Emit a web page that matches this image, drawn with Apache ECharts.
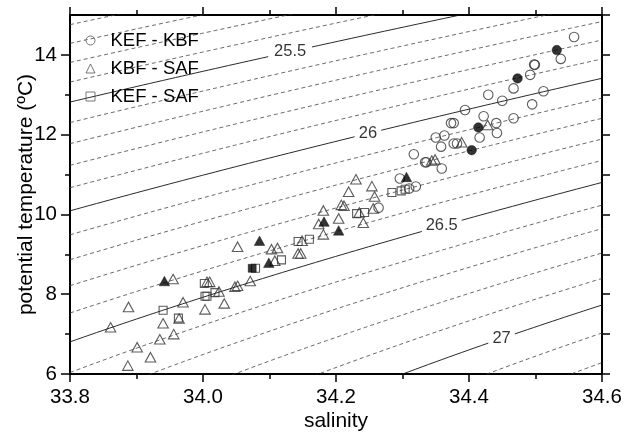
<!DOCTYPE html>
<html>
<head>
<meta charset="utf-8">
<script src="https://cdn.jsdelivr.net/npm/echarts@6/dist/echarts.min.js"></script>
<style>
html, body { margin: 0; padding: 0; background: #fff; }
#main { width: 628px; height: 432px; }
</style>
</head>
<body>
<div id="main"></div>
<script>
// tick labels
var salTicks = [33.8, 34.0, 34.2, 34.4, 34.6];
var salMinor = [33.9, 34.1, 34.3, 34.5];
var tempTicks = [6, 8, 10, 12, 14];
var tempMinor = [7, 9, 11, 13];
var tempRight = [6, 7, 8, 9, 10, 11, 12, 13, 14, 15];

// isopycnals (sigma-theta), solid ones carry a label
var isoLevels = [25.0, 25.1, 25.2, 25.3, 25.4, 25.5, 25.6, 25.7, 25.8, 25.9,
  26.0, 26.1, 26.2, 26.3, 26.4, 26.5, 26.6, 26.7, 26.8, 26.9, 27.0, 27.1, 27.2, 27.3];
var labelLevels = [25.5, 26, 26.5, 27];
var labelText = ['25.5', '26', '26.5', '27'];
var labelSalinity = [34.131, 34.248, 34.359, 34.449];

// [salinity, potential temperature]
var kefKbf = [[34.296, 10.90], [34.310, 10.65], [34.320, 10.70], [34.264, 10.17], [34.317, 11.51],
  [34.334, 11.31], [34.336, 11.31], [34.359, 11.15], [34.350, 11.93], [34.363, 11.98],
  [34.358, 11.70], [34.373, 12.29], [34.377, 12.29], [34.394, 12.62], [34.377, 11.78],
  [34.382, 11.78], [34.416, 11.93], [34.422, 12.46], [34.441, 12.29], [34.442, 12.04],
  [34.429, 13.00], [34.450, 12.85], [34.467, 12.41], [34.495, 12.76], [34.512, 13.09],
  [34.467, 13.16], [34.492, 13.50], [34.498, 13.76], [34.499, 13.75], [34.538, 13.90],
  [34.558, 14.45]];
var kefKbfBlack = [[34.414, 12.18], [34.404, 11.61], [34.473, 13.41], [34.532, 14.12]];

var kbfSaf = [[33.887, 6.21], [33.921, 6.42], [33.901, 6.67], [33.935, 6.87], [33.956, 7.00],
  [33.861, 7.17], [33.940, 7.27], [33.964, 7.39], [33.888, 7.68], [33.970, 7.80],
  [34.003, 7.62], [34.032, 7.77], [33.955, 8.38], [34.006, 8.31], [34.010, 8.31],
  [34.024, 8.07], [34.048, 8.19], [34.052, 8.21], [34.071, 8.33], [34.052, 9.19],
  [34.103, 9.13], [34.112, 9.16], [34.108, 8.84], [34.143, 9.02], [34.147, 9.02],
  [34.149, 9.34], [34.174, 9.76], [34.181, 9.50], [34.181, 10.10], [34.204, 9.90],
  [34.208, 10.24], [34.212, 10.22], [34.219, 10.57], [34.230, 10.88], [34.254, 10.71],
  [34.258, 10.45], [34.256, 10.15], [34.241, 9.79], [34.235, 10.05], [34.344, 11.35],
  [34.349, 11.38], [34.389, 11.81], [34.428, 12.24]];
var kbfSafBlack = [[33.942, 8.33], [34.085, 9.34], [34.099, 8.79], [34.182, 9.82],
  [34.204, 9.60], [34.306, 10.94]];

var kefSaf = [[33.940, 7.60], [33.963, 7.40], [34.002, 8.27], [34.003, 7.95], [34.006, 7.95],
  [34.018, 8.04], [34.079, 8.65], [34.118, 8.86], [34.143, 9.32], [34.160, 9.38],
  [34.231, 10.02], [34.243, 10.05], [34.284, 10.55], [34.298, 10.59], [34.304, 10.63]];
var kefSafBlack = [[34.074, 8.65]];

var FONT = "'Liberation Sans', Arial, sans-serif";
var salMin = 33.8, salMax = 34.6, tMin = 6, tMax = 15;

// UNESCO EOS-80 density at p = 0, minus 1000
function sigma0(S, T) {
  var rw = 999.842594 + 6.793952e-2 * T - 9.095290e-3 * T * T + 1.001685e-4 * T * T * T
    - 1.120083e-6 * Math.pow(T, 4) + 6.536332e-9 * Math.pow(T, 5);
  var A = 0.824493 - 4.0899e-3 * T + 7.6438e-5 * T * T - 8.2467e-7 * T * T * T + 5.3875e-9 * Math.pow(T, 4);
  var B = -5.72466e-3 + 1.0227e-4 * T - 1.6546e-6 * T * T;
  return rw + A * S + B * Math.pow(S, 1.5) + 4.8314e-4 * S * S - 1000;
}
function tempOn(S, level) {
  var lo = -2, hi = 40;
  for (var k = 0; k < 60; k++) {
    var mid = (lo + hi) / 2;
    if (sigma0(S, mid) > level) lo = mid; else hi = mid;
  }
  return (lo + hi) / 2;
}
function isoLine(level, s0, s1) {
  var pts = [];
  var n = Math.max(2, Math.ceil((s1 - s0) / 0.01));
  for (var i = 0; i <= n; i++) {
    var s = s0 + (s1 - s0) * i / n;
    pts.push([s, tempOn(s, level)]);
  }
  return pts;
}

var gapHalf = { '25.5': 0.033, '26': 0.02, '26.5': 0.03, '27': 0.02 };

var series = [];
isoLevels.forEach(function (lv) {
  var idx = labelLevels.findIndex(function (l) { return Math.abs(l - lv) < 1e-6; });
  var base = { type: 'line', symbol: 'none', silent: true, z: 1, clip: true, xAxisIndex: 0, yAxisIndex: 0 };
  if (idx < 0) {
    series.push(Object.assign({}, base, {
      data: isoLine(lv, salMin, salMax),
      lineStyle: { color: '#444', width: 0.8, type: [4, 3] }
    }));
  } else {
    var g = gapHalf[labelText[idx]];
    var sl = { color: '#111', width: 0.9 };
    series.push(Object.assign({}, base, { data: isoLine(lv, salMin, labelSalinity[idx] - g), lineStyle: sl }));
    series.push(Object.assign({}, base, { data: isoLine(lv, labelSalinity[idx] + g, salMax), lineStyle: sl }));
  }
});

series.push({
  type: 'scatter', silent: true, symbolSize: 0, z: 2,
  data: labelLevels.map(function (lv, i) {
    return { value: [labelSalinity[i], tempOn(labelSalinity[i], lv)], name: labelText[i] };
  }),
  label: { show: true, position: 'inside', formatter: '{b}', fontSize: 16.5, color: '#000', fontFamily: FONT }
});

function marks(name, data, symbol, size, filled) {
  return {
    type: 'scatter', name: name, data: data, symbol: symbol, symbolSize: size, z: 3, silent: true,
    itemStyle: filled ? { color: '#000', borderColor: '#000', borderWidth: 0.5 }
      : { color: 'rgba(0,0,0,0)', borderColor: '#333', borderWidth: 1.1 }
  };
}
series.push(marks('KEF - KBF', kefKbf, 'circle', 9.5, false));
series.push(marks('KBF - SAF', kbfSaf, 'triangle', [10.5, 9.5], false));
series.push(marks('KEF - SAF', kefSaf, 'rect', 8, false));
series.push(marks('KEF - KBF black', kefKbfBlack, 'circle', 9.5, true));
series.push(marks('KBF - SAF black', kbfSafBlack, 'triangle', [10.5, 9.5], true));
series.push(marks('KEF - SAF black', kefSafBlack, 'rect', 8, true));

function axisX(pos, ticks, len, main, showLine) {
  return {
    type: 'value', position: pos, min: salMin, max: salMax,
    splitLine: { show: false },
    axisLine: { show: showLine, onZero: false, lineStyle: { color: '#000', width: 2 } },
    axisTick: { show: true, customValues: ticks, length: len, lineStyle: { color: '#000', width: 1.5 } },
    axisLabel: main ? {
      customValues: ticks, formatter: function (v) { return v.toFixed(1); },
      fontSize: 20.5, color: '#000', margin: 13, fontFamily: FONT
    } : { show: false }
  };
}
function axisY(pos, ticks, len, main, showLine) {
  return {
    type: 'value', position: pos, min: tMin, max: tMax,
    splitLine: { show: false },
    axisLine: { show: showLine, onZero: false, lineStyle: { color: '#000', width: 2 } },
    axisTick: { show: true, customValues: ticks, length: len, lineStyle: { color: '#000', width: 1.5 } },
    axisLabel: main ? {
      customValues: ticks, fontSize: 20.5, color: '#000', margin: 13, fontFamily: FONT
    } : { show: false }
  };
}

var xMain = axisX('bottom', salTicks, 8, true, true);
xMain.name = 'salinity';
xMain.nameLocation = 'middle';
xMain.nameGap = 37;
xMain.nameMoveOverlap = false;
xMain.nameTextStyle = { fontSize: 21, color: '#000', fontFamily: FONT };
var yMain = axisY('left', tempTicks, 9, true, true);
yMain.name = 'potential temperature (\u00baC)';
yMain.nameLocation = 'middle';
yMain.nameGap = 33.5;
yMain.nameMoveOverlap = false;
yMain.nameTextStyle = { fontSize: 21, color: '#000', fontFamily: FONT };

var chart = echarts.init(document.getElementById('main'), null, { renderer: 'canvas' });
chart.setOption({
  animation: false,
  backgroundColor: '#fff',
  grid: { left: 70, top: 15, width: 532, height: 359, containLabel: false, outerBoundsMode: 'none' },
  legend: {
    orient: 'vertical', left: 85.5, top: 31, padding: 0,
    itemWidth: 9, itemHeight: 9, itemGap: 9,
    data: ['KEF - KBF', 'KBF - SAF', 'KEF - SAF'],
    itemStyle: { borderColor: '#555', borderWidth: 1 },
    textStyle: { fontSize: 18.5, color: '#000', fontFamily: FONT, padding: [0, 0, 0, 10.5] },
    selectedMode: false
  },
  xAxis: [
    xMain,
    axisX('bottom', salMinor, 5, false, false),
    axisX('top', salTicks, 8, false, true),
    axisX('top', salMinor, 5, false, false)
  ],
  yAxis: [
    yMain,
    axisY('left', tempMinor, 5, false, false),
    axisY('right', tempRight, 8, false, true)
  ],
  series: series
});
</script>
</body>
</html>
